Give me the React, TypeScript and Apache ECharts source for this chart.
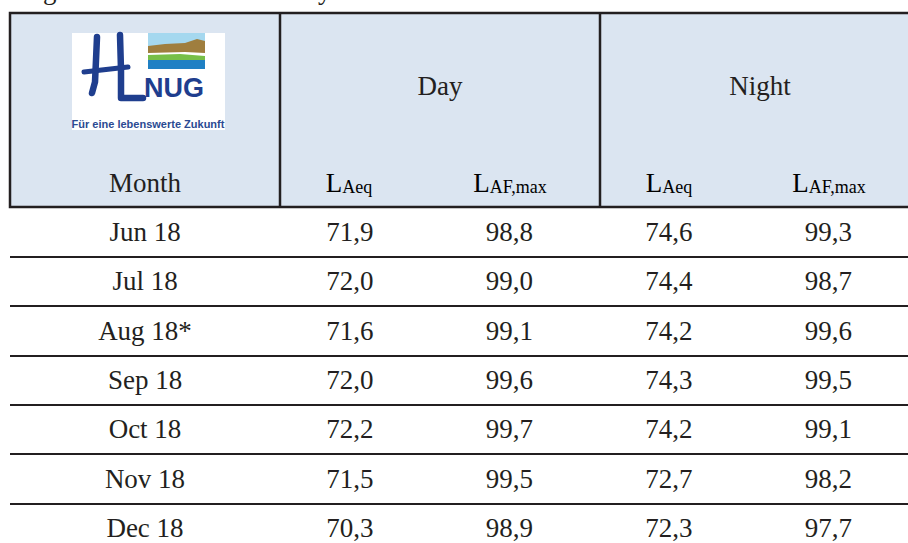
import React, { useEffect, useRef } from "react";
import * as echarts from "echarts";

const months = ["Jun 18", "Jul 18", "Aug 18*", "Sep 18", "Oct 18", "Nov 18", "Dec 18"];
const columns = ["Day LAeq", "Day LAF,max", "Night LAeq", "Night LAF,max"];
const dayLAeq = [71.9, 72.0, 71.6, 72.0, 72.2, 71.5, 70.3];
const dayLAFmax = [98.8, 99.0, 99.1, 99.6, 99.7, 99.5, 98.9];
const nightLAeq = [74.6, 74.4, 74.2, 74.3, 74.2, 72.7, 72.3];
const nightLAFmax = [99.3, 98.7, 99.6, 99.5, 99.1, 98.2, 97.7];
const seriesValues = [dayLAeq, dayLAFmax, nightLAeq, nightLAFmax];

const SERIF = "'Liberation Serif', 'Times New Roman', serif";
const SANS = "'Liberation Sans', Arial, sans-serif";
const INK = "#231f20";
const NAVY = "#1f3e8e";

export default function App() {
  const ref = useRef<HTMLDivElement>(null);
  useEffect(() => {
    if (!ref.current) return;
    const chart = echarts.init(ref.current, null, { renderer: "svg" });

    const subRich = {
      m: { fontSize: 27, fontFamily: SERIF, color: INK, lineHeight: 30, verticalAlign: "bottom" },
      s: { fontSize: 18, fontFamily: SERIF, color: INK, lineHeight: 18, verticalAlign: "bottom" },
    };
    const subHeader = (x: number, sub: string) => ({
      type: "text",
      x,
      y: 196,
      style: {
        text: `{m|L}{s|${sub}}`,
        rich: subRich,
        align: "center",
        verticalAlign: "bottom",
      },
    });

    const option: any = {
      animation: false,
      backgroundColor: "#ffffff",
      grid: [
        { left: 10, top: 207, width: 910, height: 346 },
        { left: 270, top: 207, width: 640, height: 346 },
      ],
      xAxis: [
        { type: "value", gridIndex: 0, show: false },
        { type: "category", gridIndex: 1, data: columns, show: false },
      ],
      yAxis: [
        {
          type: "category",
          gridIndex: 0,
          data: months,
          inverse: true,
          axisLine: { show: false },
          axisTick: { show: false },
          axisLabel: {
            inside: true,
            margin: 135,
            align: "center",
            fontSize: 27,
            fontFamily: SERIF,
            color: INK,
          },
          splitLine: { show: true, interval: 0, lineStyle: { color: INK, width: 2 } },
        },
        { type: "category", gridIndex: 1, data: months, inverse: true, show: false },
      ],
      series: seriesValues.map((vals, k) => ({
        type: "scatter",
        xAxisIndex: 1,
        yAxisIndex: 1,
        symbolSize: 1,
        itemStyle: { color: "rgba(0,0,0,0)", opacity: 1 },
        emphasis: { disabled: true },
        data: vals.map((v, i) => [columns[k], months[i], v]),
        label: {
          show: true,
          position: "inside",
          formatter: (p: any) => p.value[2].toFixed(1).replace(".", ","),
          fontSize: 27,
          fontFamily: SERIF,
          color: INK,
          opacity: 1,
          textBorderWidth: 0,
        },
      })),
      graphic: [
        // cut-off caption fragments at the very top
        { type: "text", x: 43, y: -10, style: { text: "g", fontSize: 27, fontFamily: SERIF, fill: INK, verticalAlign: "middle" } },
        { type: "text", x: 318, y: -10, style: { text: "y", fontSize: 27, fontFamily: SERIF, fill: INK, verticalAlign: "middle" } },
        // header background and borders
        { type: "rect", shape: { x: 10, y: 13, width: 910, height: 194 }, style: { fill: "#dbe5f1", stroke: INK, lineWidth: 2.5 } },
        { type: "line", shape: { x1: 280, y1: 13, x2: 280, y2: 207 }, style: { stroke: INK, lineWidth: 2.5 } },
        { type: "line", shape: { x1: 600, y1: 13, x2: 600, y2: 207 }, style: { stroke: INK, lineWidth: 2.5 } },
        // logo
        { type: "rect", shape: { x: 72, y: 33, width: 153, height: 97 }, style: { fill: "#ffffff" } },
        { type: "rect", shape: { x: 148, y: 33, width: 57, height: 14 }, style: { fill: "#a5d8ef" } },
        { type: "polygon", shape: { points: [[148, 46], [165, 44], [185, 43], [197, 39], [205, 41], [205, 53], [185, 52], [148, 53]] }, style: { fill: "#9f7e3e" } },
        { type: "polygon", shape: { points: [[148, 55], [180, 54], [205, 56], [205, 60], [148, 60]] }, style: { fill: "#77bf48" } },
        { type: "rect", shape: { x: 148, y: 60, width: 57, height: 9 }, style: { fill: "#1f80c4" } },
        { type: "polyline", shape: { points: [[97, 37], [96, 60], [95, 82], [92, 93]] }, style: { stroke: NAVY, lineWidth: 6.5, lineCap: "round", lineJoin: "round", fill: "none" } },
        { type: "polyline", shape: { points: [[120, 35], [121, 70], [121, 98], [143, 98]] }, style: { stroke: NAVY, lineWidth: 6.5, lineCap: "round", lineJoin: "round", fill: "none" } },
        { type: "line", shape: { x1: 84, y1: 72, x2: 128, y2: 67 }, style: { stroke: NAVY, lineWidth: 5, lineCap: "round" } },
        { type: "text", x: 144, y: 101, style: { text: "NUG", fontSize: 27, fontWeight: "bold", fontFamily: SANS, fill: NAVY, verticalAlign: "bottom" } },
        { type: "text", x: 148, y: 124, style: { text: "Für eine lebenswerte Zukunft", fontSize: 11, fontWeight: "bold", fontFamily: SANS, fill: "#2b4a92", align: "center", verticalAlign: "middle" } },
        // header texts
        { type: "text", x: 145, y: 183, style: { text: "Month", fontSize: 27, fontFamily: SERIF, fill: INK, align: "center", verticalAlign: "middle" } },
        { type: "text", x: 440, y: 86, style: { text: "Day", fontSize: 27, fontFamily: SERIF, fill: INK, align: "center", verticalAlign: "middle" } },
        { type: "text", x: 760, y: 86, style: { text: "Night", fontSize: 27, fontFamily: SERIF, fill: INK, align: "center", verticalAlign: "middle" } },
        subHeader(349, "Aeq"),
        subHeader(510, "AF,max"),
        subHeader(669, "Aeq"),
        subHeader(829, "AF,max"),
      ],
    };
    chart.setOption(option);
    return () => chart.dispose();
  }, []);
  return (
    <div style={{ position: "absolute", left: 0, top: 0, width: 908, height: 543, overflow: "hidden" }}>
      <div ref={ref} style={{ width: 908, height: 560 }} />
    </div>
  );
}
